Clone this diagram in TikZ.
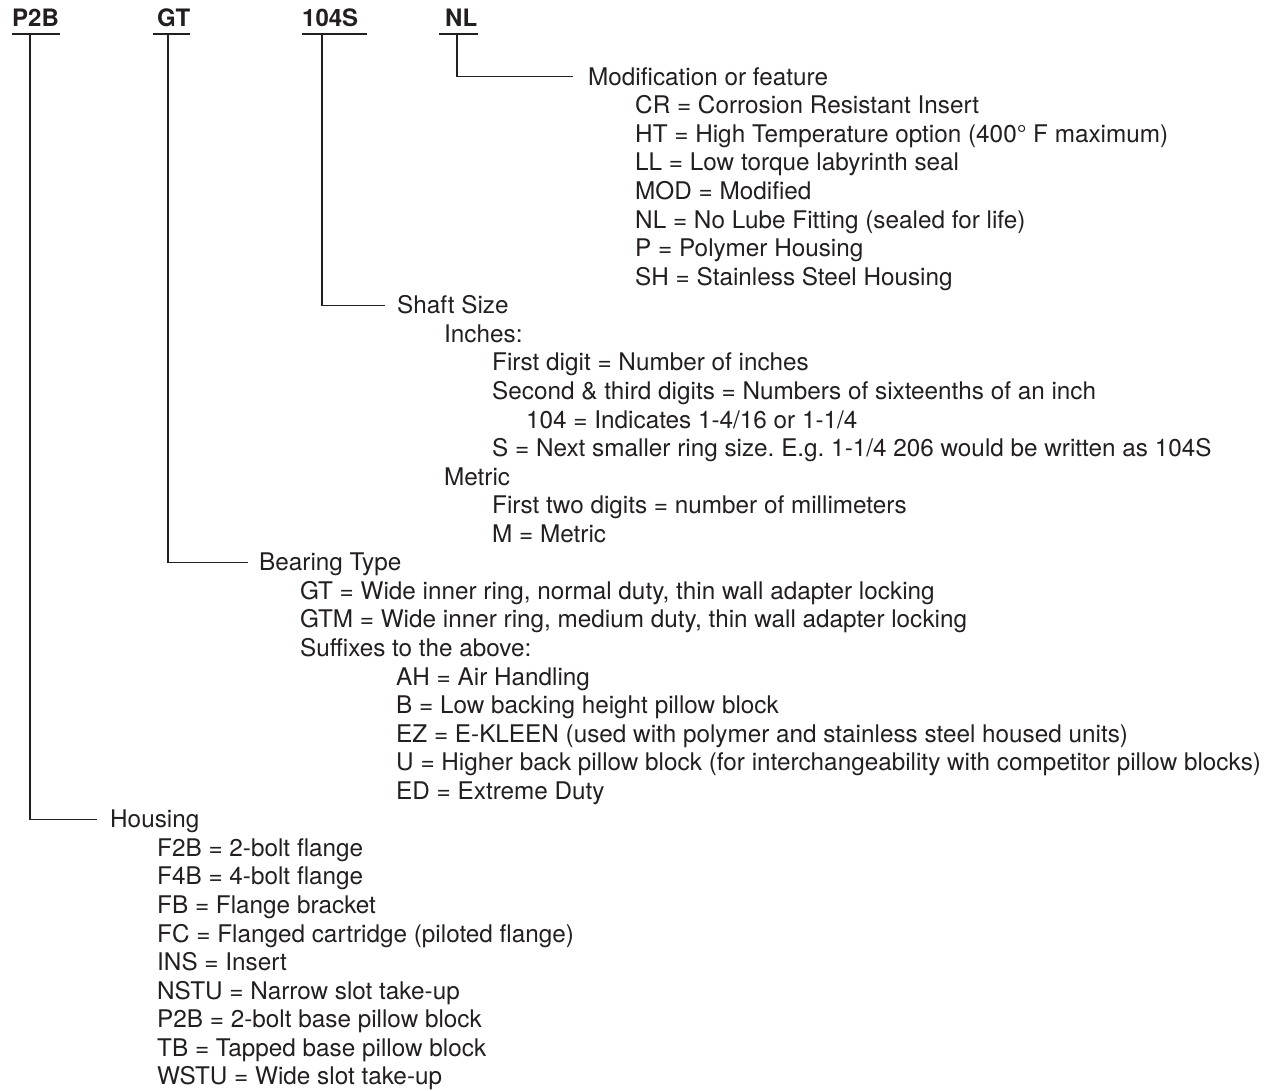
\documentclass[tikz,border=0pt]{standalone}
\usepackage{fontspec}
\setmainfont{TeX Gyre Heros}
\frenchspacing
\definecolor{ink}{HTML}{231F20}
\tikzset{
  txt/.style={anchor=base west, inner sep=0pt, text height=17pt, text depth=0pt,
    font=\fontsize{24.3}{28}\selectfont, text=ink},
  hdr/.style={anchor=base west, inner sep=0pt, font=\fontsize{24}{28}\selectfont\bfseries, text=ink},
  conn/.style={draw=ink, line width=1.4pt},
  uline/.style={draw=ink, line width=1.6pt},
}
\newcommand\rw[4]{\node[txt] (#1) at (#2,{-85.3-28.56*#3}) {#4};}
\begin{document}
\begin{tikzpicture}[x=1pt,y=1pt]
\useasboundingbox (0,0) rectangle (1274,-1091);
% headers
\node[hdr] (hP) at (12,-27) {P2B};
\node[hdr] (hG) at (157,-27) {GT};
\node[hdr] (hS) at (302,-27) {104S};
\node[hdr] (hN) at (445,-27) {NL};
\draw[uline] (12,-34) -- (60,-34);
\draw[uline] (153,-34) -- (190,-34);
\draw[uline] (302,-34) -- (367,-34);
\draw[uline] (439,-34) -- (478,-34);
\coordinate (uP) at (30,-34);
\coordinate (uG) at (168,-34);
\coordinate (uS) at (322,-34);
\coordinate (uN) at (457,-34);
% rows
\rw{mod}{588}{0}{Modification or feature}
\rw{r1}{635}{1}{CR = Corrosion Resistant Insert}
\rw{r2}{635}{2}{HT = High Temperature option (400° F maximum)}
\rw{r3}{635}{3}{LL = Low torque labyrinth seal}
\rw{r4}{635}{4}{MOD = Modified}
\rw{r5}{635}{5}{NL = No Lube Fitting (sealed for life)}
\rw{r6}{635}{6}{P = Polymer Housing}
\rw{r7}{635}{7}{SH = Stainless Steel Housing}
\rw{shaft}{397}{8}{Shaft Size}
\rw{r9}{444}{9}{Inches:}
\rw{r10}{492}{10}{First digit = Number of inches}
\rw{r11}{492}{11}{Second \& third digits = Numbers of sixteenths of an inch}
\rw{r12}{526}{12}{104 = Indicates 1-4/16 or 1-1/4}
\rw{r13}{492}{13}{S = Next smaller ring size. E.g. 1-1/4 206 would be written as 104S}
\rw{r14}{444}{14}{Metric}
\rw{r15}{492}{15}{First two digits = number of millimeters}
\rw{r16}{492}{16}{M = Metric}
\rw{bear}{259}{17}{Bearing Type}
\rw{r18}{300}{18}{GT = Wide inner ring, normal duty, thin wall adapter locking}
\rw{r19}{300}{19}{GTM = Wide inner ring, medium duty, thin wall adapter locking}
\rw{r20}{300}{20}{Suffixes to the above:}
\rw{r21}{396}{21}{AH = Air Handling}
\rw{r22}{396}{22}{B = Low backing height pillow block}
\rw{r23}{396}{23}{EZ = E-KLEEN (used with polymer and stainless steel housed units)}
\rw{r24}{396}{24}{U = Higher back pillow block (for interchangeability with competitor pillow blocks)}
\rw{r25}{396}{25}{ED = Extreme Duty}
\rw{hous}{110}{26}{Housing}
\rw{r27}{157}{27}{F2B = 2-bolt flange}
\rw{r28}{157}{28}{F4B = 4-bolt flange}
\rw{r29}{157}{29}{FB = Flange bracket}
\rw{r30}{157}{30}{FC = Flanged cartridge (piloted flange)}
\rw{r31}{157}{31}{INS = Insert}
\rw{r32}{157}{32}{NSTU = Narrow slot take-up}
\rw{r33}{157}{33}{P2B = 2-bolt base pillow block}
\rw{r34}{157}{34}{TB = Tapped base pillow block}
\rw{r35}{157}{35}{WSTU = Wide slot take-up}
% connectors
\draw[conn] (uN) |- ([xshift=-15pt]mod.west);
\draw[conn] (uS) |- ([xshift=-12pt]shaft.west);
\draw[conn] (uG) |- ([xshift=-11pt]bear.west);
\draw[conn] (uP) |- ([xshift=-13pt]hous.west);
\end{tikzpicture}
\end{document}
